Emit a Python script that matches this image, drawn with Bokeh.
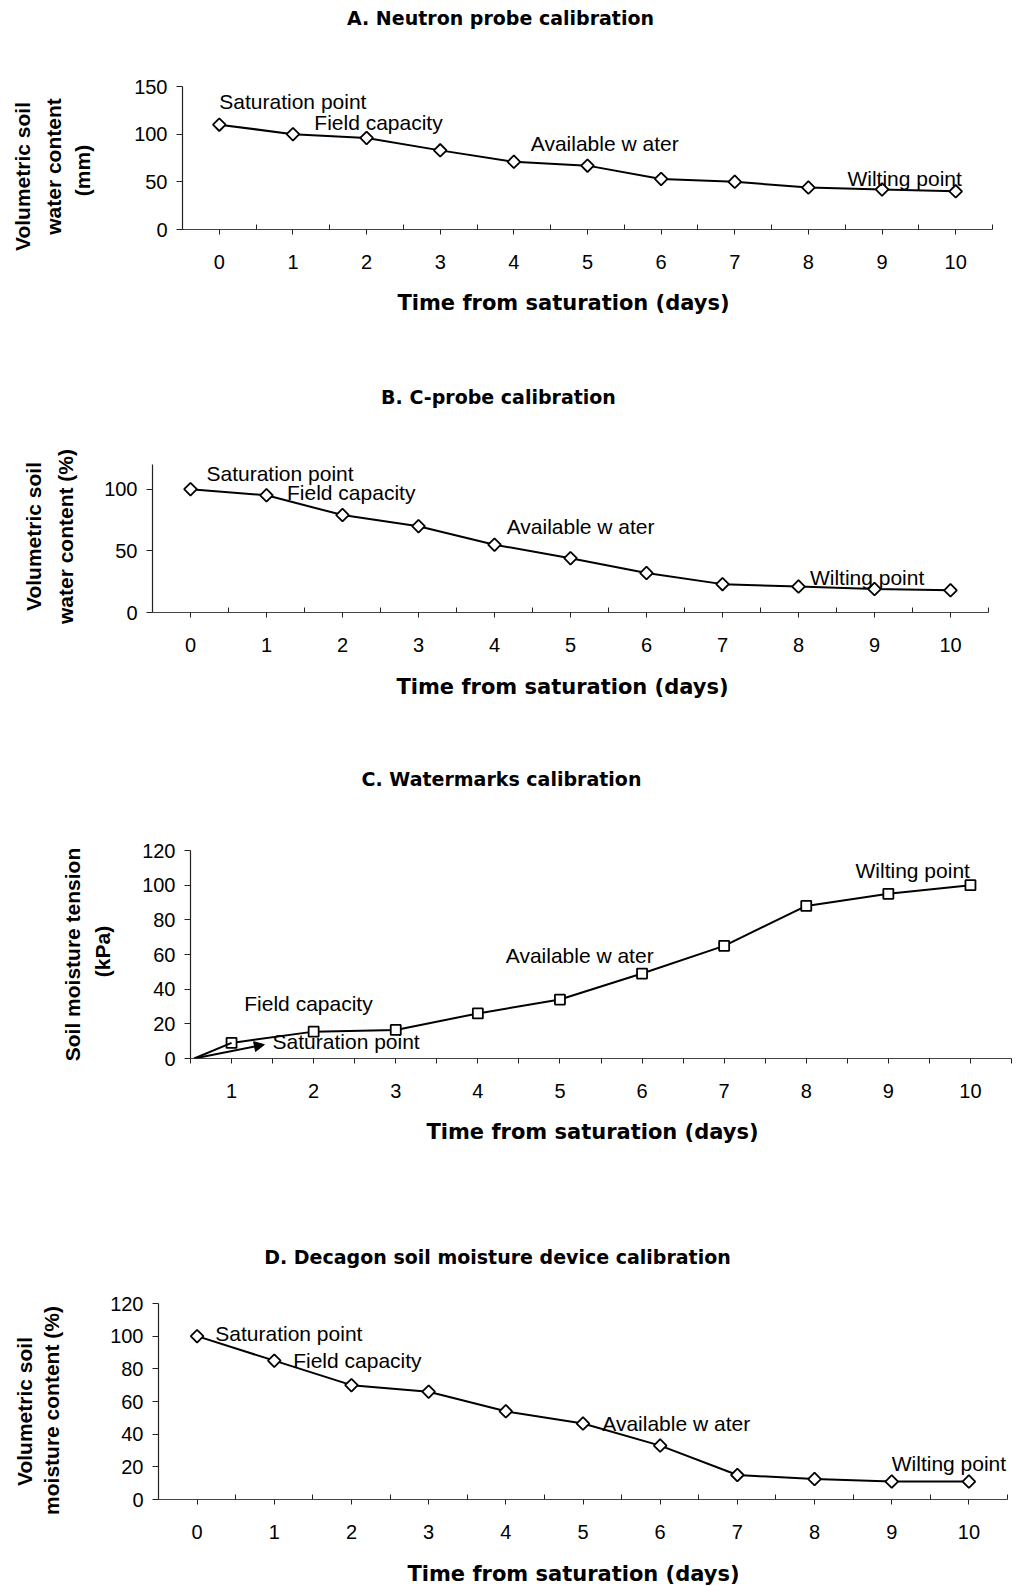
import math
from bokeh.plotting import figure
from bokeh.models import Range1d, FixedTicker, Label, Arrow, NormalHead
from bokeh.embed import file_html
from bokeh.resources import INLINE

# ---------------- data ----------------
days_a = [0, 1, 2, 3, 4, 5, 6, 7, 8, 9, 10]
neutron_mm = [110, 100, 96, 83, 71, 67, 53, 50, 44, 42, 40]

days_b = [0, 1, 2, 3, 4, 5, 6, 7, 8, 9, 10]
cprobe_pct = [100, 95, 79, 70, 55, 44, 32, 23, 21, 19, 18]

days_c = [1, 2, 3, 4, 5, 6, 7, 8, 9, 10]
watermark_kpa = [9, 15.5, 16.5, 26, 34, 49, 65, 88, 95, 100]

days_d = [0, 1, 2, 3, 4, 5, 6, 7, 8, 9, 10]
decagon_pct = [100, 85, 70, 66, 54, 46.5, 33, 15, 12.5, 11, 11]

point_names = ["Saturation point", "Field capacity", "Available w ater", "Wilting point"]
ann_x_a = [0.0, 1.29, 4.23, 8.53]
ann_y_a = [134, 112, 90.5, 53.5]
ann_x_b = [0.21, 1.27, 4.16, 8.15]
ann_y_b = [112.6, 97, 69.6, 28.7]
ann_x_c = [1.5, 1.155, 4.34, 8.60]
ann_y_c = [9.9, 31.6, 59.4, 108.6]
ann_x_d = [0.236, 1.245, 5.25, 9.0]
ann_y_d = [101.5, 85, 46.8, 22.3]

x_label = "Time from saturation (days)"

W = 1018
NORMAL = "Liberation Sans"
BOLD_Y = "Liberation Sans"
BOLD_T = "DejaVu Sans"


def make_panel(cfg):
    top = cfg["page_top"]
    H = cfg["height"]
    L, R, T, B = cfg["L"], cfg["R"], cfg["T"], cfg["B"]
    x0, x1 = cfg["xr"]
    y0, y1 = cfg["yr"]
    p = figure(width=W, height=H, output_backend="svg", toolbar_location=None,
               x_range=Range1d(x0, x1), y_range=Range1d(y0, y1),
               min_border_left=L, min_border_right=W - R,
               min_border_top=T - top, min_border_bottom=top + H - B)
    p.outline_line_color = None
    p.xgrid.visible = False
    p.ygrid.visible = False
    p.background_fill_color = "white"
    p.border_fill_color = "white"

    def to_data(px, py):
        dx = x0 + (px - L) / (R - L) * (x1 - x0)
        dy = y0 + (B - py) / (B - T) * (y1 - y0)
        return dx, dy

    # x axis
    xa = p.xaxis[0]
    cats = cfg["days"]
    minors = [c - 0.5 for c in cats] + [cats[-1] + 0.5]
    xa.ticker = FixedTicker(ticks=cats, minor_ticks=minors)
    xa.axis_line_color = "#444444"
    xa.axis_line_width = 1.2
    xa.major_tick_line_color = "#222222"
    xa.minor_tick_line_color = "#222222"
    xa.major_tick_in = 0
    xa.major_tick_out = 5
    if cfg["minor_out"]:
        xa.minor_tick_in = 0
        xa.minor_tick_out = 5
    else:
        xa.minor_tick_in = 5
        xa.minor_tick_out = 0
    xa.major_label_text_font = NORMAL
    xa.major_label_text_font_size = "20px"
    xa.major_label_text_color = "black"
    xa.major_label_standoff = 20

    ya = p.yaxis[0]
    ya.ticker = FixedTicker(ticks=cfg["yticks"], minor_ticks=[])
    ya.axis_line_color = "#222222"
    ya.axis_line_width = 1.2
    ya.major_tick_in = 0
    ya.major_tick_out = 6
    ya.major_tick_line_color = "#222222"
    ya.major_label_text_font = NORMAL
    ya.major_label_text_font_size = "20px"
    ya.major_label_text_color = "black"
    ya.major_label_standoff = 9

    # series
    p.line(cfg["days"], cfg["vals"], line_color="black", line_width=2)
    if cfg["marker"] == "diamond":
        p.scatter(cfg["days"], cfg["vals"], marker="square", angle=math.pi / 4, size=9,
                  fill_color="white", line_color="black", line_width=1.8)
    else:
        p.scatter(cfg["days"], cfg["vals"], marker="square", size=10,
                  fill_color="white", line_color="black", line_width=1.8)

    # point annotations inside the frame
    for name, ax, ay in zip(point_names, cfg["ann_x"], cfg["ann_y"]):
        p.add_layout(Label(x=ax, y=ay, text=name, text_font=NORMAL, text_font_size="21px",
                           text_align="left", text_baseline="middle", text_color="black"))

    # title (side panel, so it is not clipped to the frame)
    tx, ty = to_data(*cfg["title_xy"])
    p.add_layout(Label(x=tx, y=ty, text=cfg["title"], text_font=BOLD_T, text_font_size="19px",
                       text_font_style="bold", text_align="center", text_baseline="middle",
                       text_color="black"), "above")
    # x axis label
    lx, ly = to_data(*cfg["xlabel_xy"])
    p.add_layout(Label(x=lx, y=ly, text=x_label, text_font=BOLD_T, text_font_size="21px",
                       text_font_style="bold", text_align="center", text_baseline="middle",
                       text_color="black"), "below")
    # y axis label lines
    for txt, px, py in cfg["ylabel"]:
        dx, dy = to_data(px, py)
        p.add_layout(Label(x=dx, y=dy, text=txt, text_font=BOLD_Y, text_font_size="21px",
                           text_font_style="bold", text_align="center", text_baseline="middle",
                           angle=math.pi / 2, text_color="black"), "left")
    return p


cfg_a = dict(page_top=0, height=330, L=182, R=992, T=86, B=229,
             xr=(-0.5, 10.5), yr=(0, 150), yticks=[0, 50, 100, 150],
             days=days_a, vals=neutron_mm, marker="diamond", minor_out=False,
             ann_x=ann_x_a, ann_y=ann_y_a,
             title="A. Neutron probe calibration", title_xy=(500, 17),
             xlabel_xy=(563, 302),
             ylabel=[("Volumetric soil", 22, 176), ("water content", 53, 166), ("(mm)", 82, 170)])

cfg_b = dict(page_top=330, height=400, L=152, R=988, T=464, B=612,
             xr=(-0.5, 10.5), yr=(0, 120), yticks=[0, 50, 100],
             days=days_b, vals=cprobe_pct, marker="diamond", minor_out=False,
             ann_x=ann_x_b, ann_y=ann_y_b,
             title="B. C-probe calibration", title_xy=(498, 396),
             xlabel_xy=(562, 686),
             ylabel=[("Volumetric soil", 33, 536), ("water content (%)", 65, 536)])

cfg_c = dict(page_top=730, height=430, L=190, R=1011, T=850, B=1058,
             xr=(0.5, 10.5), yr=(0, 120), yticks=[0, 20, 40, 60, 80, 100, 120],
             days=days_c, vals=watermark_kpa, marker="square", minor_out=True,
             ann_x=ann_x_c, ann_y=ann_y_c,
             title="C. Watermarks calibration", title_xy=(501, 778),
             xlabel_xy=(592, 1131),
             ylabel=[("Soil moisture tension", 72, 954), ("(kPa)", 102, 951)])

cfg_d = dict(page_top=1160, height=426, L=158, R=1007, T=1303, B=1499,
             xr=(-0.5, 10.5), yr=(0, 120), yticks=[0, 20, 40, 60, 80, 100, 120],
             days=days_d, vals=decagon_pct, marker="diamond", minor_out=False,
             ann_x=ann_x_d, ann_y=ann_y_d,
             title="D. Decagon soil moisture device calibration", title_xy=(497, 1256),
             xlabel_xy=(573, 1573),
             ylabel=[("Volumetric soil", 24, 1411), ("moisture content (%)", 51, 1410)])

pA = make_panel(cfg_a)
pB = make_panel(cfg_b)
pC = make_panel(cfg_c)
pD = make_panel(cfg_d)

# arrow from origin toward "Saturation point" in panel C, plus the lead-in segment
pC.segment(x0=[0.545], y0=[0], x1=[days_c[0]], y1=[watermark_kpa[0]], line_color="black", line_width=2)
pC.add_layout(Arrow(end=NormalHead(size=10, fill_color="black", line_color="black"),
                    x_start=0.545, y_start=0, x_end=1.40, y_end=8.0,
                    line_color="black", line_width=2))

html = file_html([pA, pB, pC, pD], INLINE)
html = html.replace("<head>", "<head><style>html,body{margin:0;padding:0;} body>div{display:block;line-height:0;}</style>", 1)
open("out.html", "w").write(html)
